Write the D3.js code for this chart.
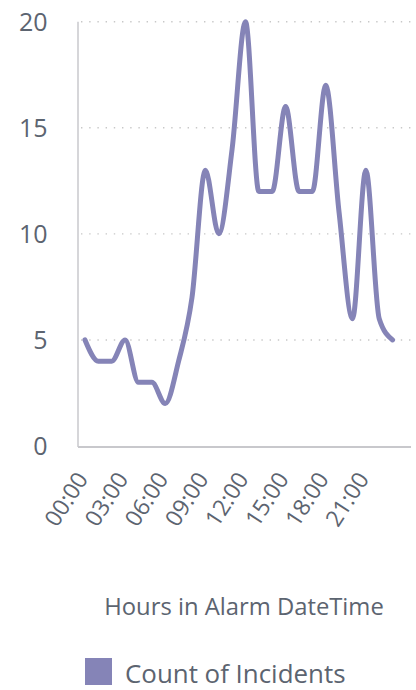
<!DOCTYPE html>
<html><head><meta charset="utf-8">
<script src="https://cdn.jsdelivr.net/npm/d3@7/dist/d3.min.js"></script>
<style>
html,body{margin:0;padding:0;background:#fff;}
text{font-family:"Open Sans",sans-serif;fill:#5c6470;}
</style></head>
<body>
<svg id="c" width="416" height="690"></svg>
<script>
const hours = d3.range(0,24);
const counts = [5,4,4,5,3,3,2,4,7,13,10,14,20,12,12,16,12,12,17,11,6,13,6,5];
const yTicks = [0,5,10,15,20];
const xTickHours = [0,3,6,9,12,15,18,21];
const xTickLabels = ["00:00","03:00","06:00","09:00","12:00","15:00","18:00","21:00"];
const seriesName = "Count of Incidents";
const axisTitle = "Hours in Alarm DateTime";
const color = "#8584b7";

const svg = d3.select("#c");
const x = d3.scaleLinear().domain([0,23]).range([85,392.6]);
const y = d3.scaleLinear().domain([0,20]).range([446,21.7]);
const left = 78, right = 411;

// gridlines
svg.append("g").selectAll("line").data(yTicks.filter(d=>d>0)).join("line")
  .attr("x1",left+3).attr("x2",right)
  .attr("y1",d=>y(d)).attr("y2",d=>y(d))
  .attr("stroke","#c8c8c8").attr("stroke-width",1.4)
  .attr("stroke-dasharray","1.4,6.8");

// y labels
svg.append("g").selectAll("text").data(yTicks).join("text")
  .attr("x",47.5).attr("y",d=>y(d)).attr("dy","0.36em")
  .attr("text-anchor","end").attr("font-size",25).text(d=>d);

// axis lines
svg.append("line").attr("x1",left).attr("x2",left).attr("y1",y(20)).attr("y2",447)
  .attr("stroke","#c8c8cc").attr("stroke-width",1.5);
svg.append("line").attr("x1",left).attr("x2",right).attr("y1",447).attr("y2",447)
  .attr("stroke","#c8c8cc").attr("stroke-width",2);

// x labels
svg.append("g").selectAll("text").data(xTickHours).join("text")
  .attr("transform",(d)=>`translate(${x(d)+4},479) rotate(-57)`)
  .attr("text-anchor","end").attr("font-size",23)
  .text((d,i)=>xTickLabels[i]);

// line
const line = d3.line().x((d,i)=>x(hours[i])).y(d=>y(d)).curve(d3.curveMonotoneX);
svg.append("path").attr("d",line(counts)).attr("fill","none")
  .attr("stroke",color).attr("stroke-width",5)
  .attr("stroke-linecap","round").attr("stroke-linejoin","round");

// axis title
svg.append("text").attr("x",244).attr("y",615).attr("text-anchor","middle")
  .attr("font-size",23.8).text(axisTitle);

// legend
svg.append("rect").attr("x",85).attr("y",658).attr("width",27).attr("height",27).attr("fill",color);
svg.append("text").attr("x",125).attr("y",683).attr("font-size",25.9).text(seriesName);
</script>
</body></html>
